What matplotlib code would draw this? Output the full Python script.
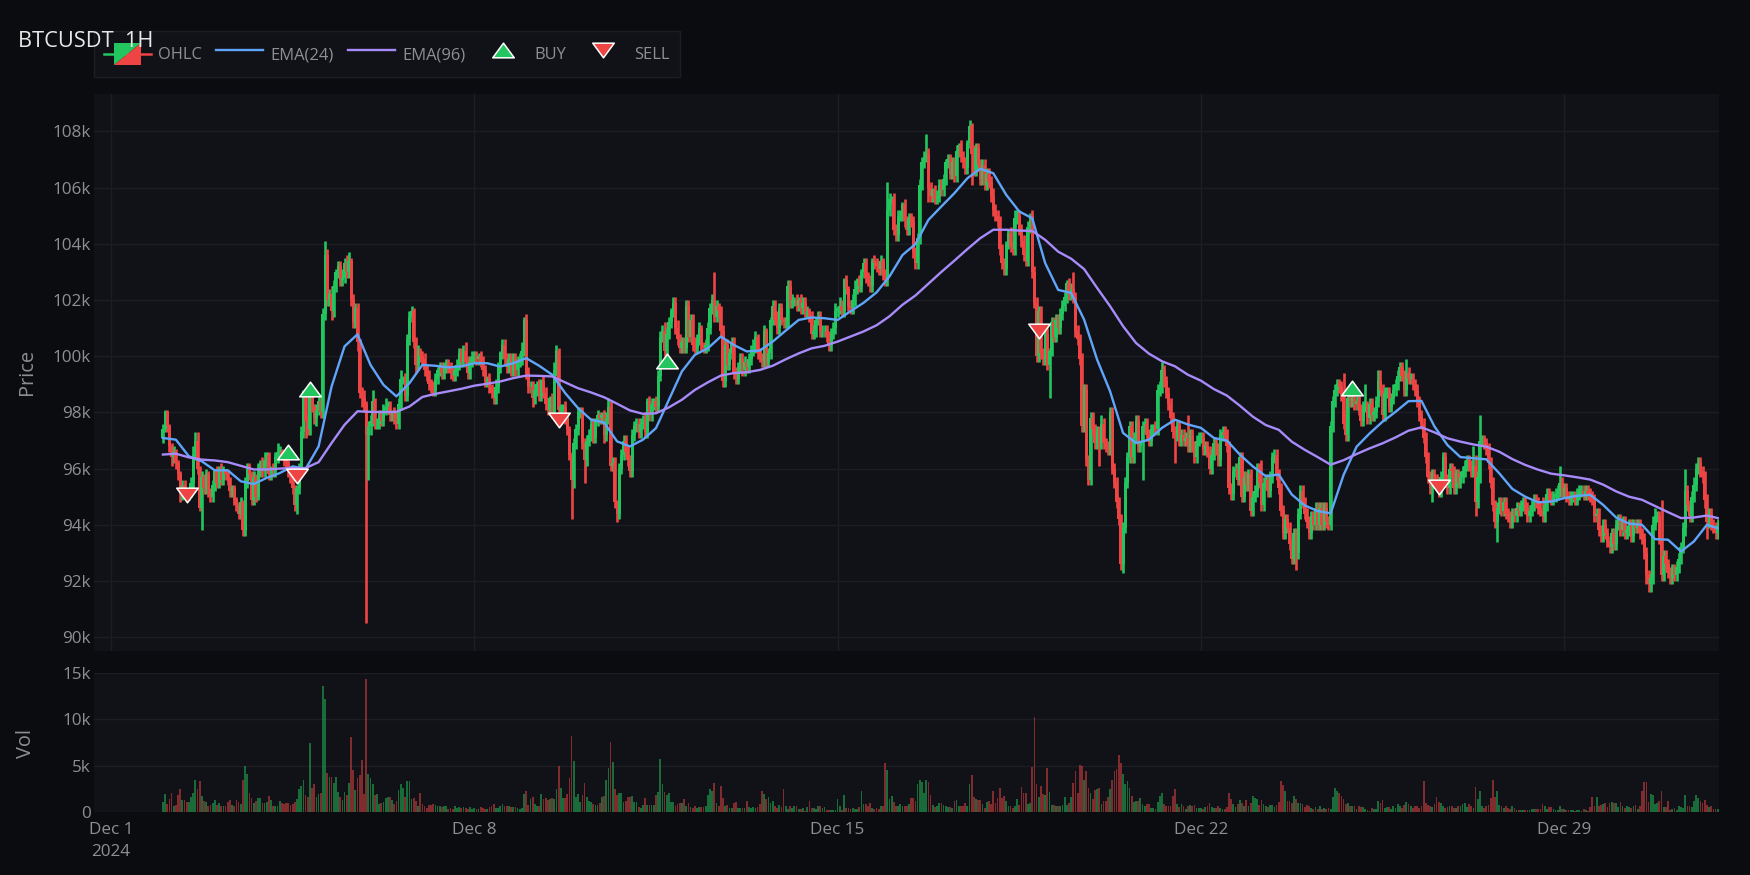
import pandas as pd
import matplotlib
matplotlib.use("Agg")
import matplotlib.pyplot as plt
import matplotlib.dates as mdates
from matplotlib.path import Path
from matplotlib.lines import Line2D
from matplotlib.patches import Polygon, Patch
from matplotlib.legend_handler import HandlerBase

plt.rcParams['font.family'] = ['Open Sans', 'DejaVu Sans']

symbol_title = "BTCUSDT  1H"
first_open = 97.1
closes = [
97.4,98.0,97.5,96.8,96.4,96.6,96.2,95.8,95.1,95.4,95.2,95.1,95.2,95.5,96.5,97.0,96.0,94.6,95.7,95.3,95.8,95.2,95.0,95.4,
95.9,95.5,96.0,95.6,95.9,95.8,95.6,95.2,95.3,94.9,94.7,94.4,94.8,93.8,95.5,96.1,95.8,94.9,95.7,95.0,95.9,96.2,95.9,96.3,
96.5,95.8,96.0,95.9,96.4,96.6,96.6,96.5,96.3,96.2,95.9,95.8,95.3,94.7,95.3,96.0,97.3,98.5,97.7,97.4,98.6,98.2,97.8,98.1,
98.4,98.0,101.5,103.6,102.0,102.2,101.6,102.5,103.0,103.2,102.7,102.8,103.3,103.0,103.4,102.0,101.2,101.7,100.5,98.7,98.5,98.3,97.2,97.5,
97.7,98.4,97.6,97.6,97.9,97.7,98.1,98.2,98.2,97.9,98.0,97.8,97.6,98.3,99.2,99.2,98.6,100.6,101.4,101.6,100.5,99.7,100.2,100.0,
99.9,99.5,99.3,99.0,98.9,98.8,99.2,99.5,99.6,99.4,99.6,99.7,99.6,99.4,99.3,99.5,99.7,100.1,99.8,100.2,99.8,99.4,99.8,100.0,
100.0,99.9,100.0,99.8,99.5,99.1,99.2,98.9,98.7,98.5,98.9,99.6,100.1,100.4,99.9,99.6,99.9,99.5,99.9,99.5,99.8,99.9,100.2,101.3,
99.4,98.9,98.9,98.5,98.8,99.0,98.6,99.1,98.7,98.3,98.1,98.5,98.0,99.5,100.2,98.1,98.2,98.2,97.8,97.4,96.5,95.6,96.9,97.4,
98.0,98.0,96.9,96.3,97.0,97.2,97.6,97.1,97.7,97.9,97.8,97.9,97.2,97.8,98.2,96.1,96.2,94.8,94.4,96.0,96.5,97.0,96.6,96.3,
95.9,97.2,97.5,97.6,97.3,97.6,97.7,97.3,98.4,97.9,98.3,98.4,98.2,99.3,100.7,100.9,100.2,100.8,101.2,101.6,101.9,101.0,100.6,100.3,
100.5,100.3,101.8,100.7,101.3,100.4,100.3,100.6,101.0,100.4,100.3,100.4,101.0,101.7,102.0,101.4,101.8,101.6,100.9,99.1,100.4,99.7,100.1,100.5,
99.4,99.2,99.6,99.9,99.5,99.8,99.6,99.9,100.2,100.3,100.7,100.1,100.0,99.8,100.9,99.8,100.1,101.3,101.8,101.3,101.0,101.7,101.3,101.2,
101.2,102.5,101.9,102.0,102.0,101.8,102.0,101.7,101.9,101.6,101.6,101.4,100.8,100.9,101.3,101.4,100.9,100.9,100.9,100.7,100.4,100.8,101.0,101.6,
101.7,101.8,101.6,102.7,102.4,101.8,101.7,102.0,102.4,102.7,102.5,103.0,103.3,102.8,102.7,102.5,103.4,103.3,103.2,103.1,103.4,102.9,102.7,105.2,
105.6,105.6,104.5,104.3,105.0,105.0,105.4,104.8,104.5,104.9,104.8,103.7,103.3,104.2,106.1,106.9,107.1,107.2,106.0,105.7,105.9,105.6,105.7,106.1,
105.9,106.3,106.9,107.0,106.5,106.9,106.4,107.3,107.5,107.1,106.9,106.7,107.6,108.2,107.2,106.6,107.4,106.8,106.3,106.8,106.1,106.5,106.2,105.7,
105.2,105.0,104.8,103.8,103.3,103.1,104.0,104.4,103.9,103.8,104.9,105.0,104.5,104.1,103.6,103.4,104.6,105.0,103.0,101.9,100.0,101.6,100.1,99.9,
100.8,99.7,100.2,101.2,100.7,101.3,101.0,101.5,101.8,102.1,102.6,102.2,102.4,102.1,100.9,100.6,99.9,97.5,98.8,96.3,95.6,97.8,97.4,96.9,
97.3,96.9,97.6,96.9,96.8,96.7,98.0,96.0,95.5,94.8,94.2,92.6,93.9,95.5,96.4,97.5,96.4,97.1,97.7,96.8,96.9,97.5,97.6,97.2,
97.0,97.4,97.5,97.4,98.8,98.9,99.5,99.1,98.7,98.3,97.8,97.3,97.2,97.5,97.0,97.2,97.0,97.1,96.8,97.2,96.8,96.4,97.0,97.1,
97.1,96.7,96.8,96.6,96.0,96.5,96.9,96.7,96.3,97.2,97.3,97.2,96.8,95.3,95.1,95.9,96.0,95.6,96.4,95.0,95.7,95.4,95.8,94.5,
95.0,95.2,96.0,95.5,94.7,95.5,95.6,95.2,95.7,96.4,96.5,95.8,95.3,94.5,93.7,94.2,93.9,93.3,92.8,93.7,93.0,94.4,95.2,94.8,
94.4,94.1,93.7,94.3,94.0,94.6,94.0,94.6,94.0,94.6,94.1,94.0,97.5,98.4,98.8,99.0,98.9,98.6,97.6,97.2,98.5,98.4,98.5,98.3,
98.4,98.1,97.7,98.2,98.2,97.8,98.3,97.9,98.0,98.4,99.1,98.8,97.9,98.7,98.7,98.2,98.5,98.8,99.0,99.3,99.6,99.3,98.8,99.4,
99.2,99.2,99.0,98.8,98.4,97.9,97.6,97.1,96.4,95.7,95.3,95.8,95.6,95.4,95.2,95.7,96.4,95.6,95.3,96.0,95.9,95.3,95.8,95.5,
95.7,95.9,96.1,96.3,96.1,95.9,96.1,94.8,95.7,97.0,97.0,96.9,96.7,96.2,95.5,94.7,94.1,94.6,94.8,94.5,94.8,94.4,94.3,94.1,
94.4,94.3,94.6,94.5,94.7,94.8,94.6,94.3,94.5,94.7,94.9,94.8,94.6,94.5,94.3,94.7,95.1,95.0,94.9,95.0,95.1,95.2,95.5,95.2,
95.3,95.0,94.9,95.0,95.0,94.9,95.1,95.2,95.2,95.1,95.2,95.1,95.0,94.9,94.3,94.4,93.8,93.6,94.0,93.7,93.4,93.2,93.7,93.3,
94.0,94.2,93.8,94.1,93.7,93.8,94.0,93.6,94.0,93.9,94.0,93.7,93.5,93.0,92.2,91.9,92.1,94.0,94.3,94.3,93.5,92.2,92.9,92.6,
92.3,92.1,92.4,92.2,92.5,92.8,93.2,93.9,95.2,94.7,94.3,95.0,95.4,96.0,96.2,95.9,95.7,94.9,94.1,94.4,94.0,93.9,93.7,94.0,
]
upper_wicks = [
2,1,1,1,1,2,1,1,1,2,2,1,1,2,3,3,3,1,2,1,2,1,1,2,
1,2,1,2,2,1,1,1,1,1,1,1,2,1,2,1,1,1,2,1,3,1,2,3,
1,1,1,2,2,3,2,1,1,1,1,1,1,1,1,2,2,3,3,2,2,1,1,2,
2,1,2,5,2,2,3,2,1,2,2,3,2,3,3,1,2,2,2,1,2,3,1,2,
2,4,1,2,2,2,2,3,2,2,1,2,2,2,3,1,2,2,2,2,1,2,2,1,
2,2,2,2,2,2,2,1,2,2,2,2,2,2,2,2,2,2,2,2,3,2,2,2,
2,2,1,2,2,2,1,2,1,2,3,2,1,2,2,2,2,2,2,2,2,2,3,1,
2,2,2,2,2,1,2,1,2,2,2,1,2,3,2,1,1,1,2,1,1,1,2,2,
2,2,2,2,2,2,2,2,1,2,1,1,2,2,3,2,2,2,1,2,2,2,2,2,
2,2,2,2,2,2,2,3,1,2,2,1,2,2,2,2,3,2,2,1,2,2,3,2,
2,2,2,2,2,2,3,2,2,1,1,2,2,2,2,10,2,1,2,2,2,2,2,2,
2,2,2,2,2,2,1,2,2,3,2,1,2,1,2,1,2,1,2,2,3,2,2,1,
2,2,2,2,1,2,1,2,2,2,2,1,2,2,1,2,2,2,2,2,2,2,2,3,
1,3,2,1,2,1,2,2,3,1,2,1,2,2,2,2,1,2,2,2,2,1,2,10,
2,1,2,2,2,2,1,2,2,2,2,2,2,2,2,2,2,7,2,2,1,2,2,2,
2,2,1,2,2,2,2,2,1,2,2,2,1,2,1,3,2,2,2,2,2,2,2,2,
3,2,2,2,2,2,1,1,2,2,3,2,2,2,2,2,2,1,2,2,2,2,2,2,
2,2,1,2,2,2,2,2,2,2,1,2,2,6,2,2,2,2,2,2,2,2,2,2,
2,2,3,2,2,2,2,2,2,2,2,2,2,2,2,2,2,2,2,2,1,2,2,2,
2,2,1,2,2,2,3,2,2,2,2,2,2,2,2,2,2,2,8,2,2,2,2,2,
2,2,2,2,2,2,2,2,2,2,2,2,2,2,2,2,2,2,2,2,2,2,2,2,
2,2,2,2,8,2,2,2,2,2,2,2,2,2,2,2,2,2,2,2,2,2,2,2,
2,2,2,2,2,2,2,2,2,2,2,2,2,2,2,2,2,2,8,5,2,2,2,2,
2,2,2,2,8,2,2,2,2,2,4,4,2,2,2,2,2,2,2,2,2,2,2,5,
2,2,2,2,2,2,2,2,2,2,2,2,2,2,2,2,2,2,2,2,2,2,2,2,
2,2,2,2,2,2,7,4,2,9,2,2,2,2,2,2,2,2,2,2,2,2,2,2,
2,2,2,2,2,2,2,2,2,2,2,2,2,2,5,2,2,2,2,2,2,2,6,2,
2,2,2,2,2,2,2,2,2,2,2,2,2,2,2,2,2,2,2,2,2,2,2,2,
2,2,2,2,2,2,2,2,2,2,2,2,2,2,2,2,2,3,3,2,2,14,2,2,
2,2,2,2,2,2,2,2,8,2,2,2,3,2,2,2,2,2,2,2,2,2,2,2,
]
lower_wicks = [
2,1,2,2,3,2,2,2,3,2,2,2,2,2,2,2,2,1,8,2,2,2,2,2,
2,2,2,2,2,2,2,2,2,2,2,2,2,2,2,2,2,2,2,2,1,2,2,2,
2,2,2,2,2,2,2,2,2,2,2,3,2,2,3,2,2,2,6,2,2,2,2,3,
2,2,2,2,2,2,3,2,2,2,2,2,2,2,2,2,2,2,3,2,3,3,67,16,
3,2,2,2,2,2,2,2,2,2,2,2,2,2,2,2,2,2,2,2,2,3,2,2,
2,2,2,2,2,2,2,2,2,2,2,2,2,2,2,2,2,2,2,2,2,2,2,2,
2,2,2,2,2,2,2,2,2,2,2,2,2,2,2,2,2,2,2,2,2,2,2,2,
2,2,2,3,2,2,2,2,2,2,2,2,2,2,2,2,2,2,2,2,2,14,3,2,
2,2,2,8,2,2,2,2,2,2,2,2,3,2,2,2,2,2,3,2,2,2,2,2,
2,2,2,2,2,2,2,2,2,2,2,2,2,2,2,2,2,2,2,2,2,2,2,2,
2,2,2,2,2,2,2,2,2,2,2,2,2,2,2,2,2,2,2,2,2,2,2,2,
2,2,2,2,2,2,2,2,2,2,2,2,2,2,2,2,2,2,2,2,2,2,2,2,
2,2,2,2,2,2,2,2,2,2,2,2,2,2,2,2,2,2,2,2,2,2,2,2,
2,2,2,2,2,2,2,2,2,2,2,2,2,2,2,2,2,2,2,2,2,2,2,2,
2,2,2,2,2,2,2,2,2,2,2,2,2,2,2,2,2,2,5,2,2,2,2,2,
2,2,2,2,2,2,2,2,2,2,2,2,2,2,11,2,2,2,2,2,2,2,2,2,
2,2,2,2,2,2,2,2,2,2,2,2,2,2,2,2,2,2,2,2,2,2,2,2,
2,2,12,2,2,2,2,2,2,2,2,2,2,2,2,2,2,2,2,2,2,2,2,2,
2,8,2,2,2,2,2,2,2,2,2,2,3,2,2,2,2,2,2,2,2,13,2,2,
2,2,2,2,2,2,2,2,2,2,2,2,10,2,2,2,2,2,2,2,2,2,2,2,
2,2,2,2,2,2,2,2,2,2,2,2,2,2,2,2,2,2,2,2,2,2,2,2,
2,2,2,2,2,2,2,2,2,2,2,2,2,2,2,2,2,2,2,2,6,2,2,2,
2,2,2,2,2,2,2,2,2,2,2,2,2,2,2,2,2,2,2,2,2,2,2,2,
2,2,2,2,2,2,2,2,2,2,2,2,2,2,2,2,2,2,2,2,2,2,2,2,
2,2,2,2,2,2,2,2,2,2,2,5,2,2,2,2,2,2,2,2,2,2,2,2,
2,2,2,2,2,2,2,5,2,2,2,2,2,2,2,2,2,7,2,2,2,2,2,2,
2,2,2,2,2,2,2,2,2,2,2,2,2,2,2,2,2,2,2,2,2,2,2,2,
2,2,2,2,2,2,2,2,2,2,2,2,2,2,2,2,2,2,2,2,2,2,2,2,
2,2,2,2,2,2,2,2,2,2,2,2,2,2,3,3,3,2,2,2,2,2,2,2,
2,2,2,2,2,2,2,2,3,2,2,2,2,2,2,2,2,3,6,2,2,2,2,2,
]
volumes = [
1.1,1.9,0.9,1.4,2.0,0.7,0.8,1.8,2.5,1.3,1.3,1.1,1.1,1.6,2.1,3.4,2.5,3.3,1.7,1.2,1.1,0.7,0.8,1.0,
1.3,0.8,1.0,0.6,0.6,0.6,1.1,1.3,0.8,0.7,1.3,1.1,0.9,3.4,5.0,4.1,2.1,1.5,1.0,1.2,1.5,1.5,1.0,1.0,
1.1,1.7,1.3,0.6,0.7,0.7,1.2,1.0,0.9,1.0,1.0,0.8,0.9,1.1,1.4,2.5,2.8,3.4,1.8,1.6,7.4,2.6,3.0,1.6,
1.9,2.1,13.6,12.2,4.2,3.8,3.8,3.1,3.8,2.2,1.6,1.3,2.2,1.8,3.1,8.1,4.5,2.4,3.7,4.0,5.6,1.9,14.4,4.1,
3.7,3.0,1.8,1.9,0.9,1.0,1.1,1.5,1.6,1.6,1.3,0.9,1.2,2.4,3.0,2.6,1.6,3.3,3.3,1.4,1.5,1.2,0.7,2.0,
0.9,0.7,0.4,0.8,0.8,0.9,0.8,0.7,0.6,0.5,0.7,0.6,0.3,0.4,0.3,0.7,0.4,0.5,0.4,0.5,0.4,0.3,0.5,0.3,
0.4,0.3,0.3,0.5,0.4,0.3,0.3,0.5,0.6,0.9,0.4,0.4,0.7,0.9,0.7,0.7,0.6,0.5,0.5,0.5,0.4,0.3,0.4,
1.9,2.3,0.8,1.4,1.6,0.9,0.7,0.7,1.9,1.4,1.5,1.3,1.4,1.5,1.4,2.5,5.0,2.6,1.5,1.5,1.9,3.7,8.2,5.5,1.6,1.9,1.1,1.8,3.1,1.6,1.2,1.1,0.9,0.8,0.8,1.0,1.6,1.7,3.4,4.8,7.6,5.4,2.5,1.8,2.0,2.0,1.1,1.2,1.6,1.6,1.7,1.1,1.1,0.5,0.4,0.8,1.5,0.8,0.8,0.8,0.8,1.8,2.2,5.7,3.0,2.2,1.8,2.0,1.1,1.1,0.7,0.9,1.0,1.0,1.4,0.7,1.0,0.5,0.4,0.6,0.4,0.5,0.5,0.5,0.7,1.8,2.5,2.3,3.1,1.0,0.7,2.8,1.5,0.7,0.8,0.4,0.4,1.0,1.1,0.4,0.4,0.4,0.4,1.2,0.5,0.4,0.5,0.4,0.5,0.9,2.3,1.9,1.4,1.6,1.0,1.2,0.6,0.4,0.8,0.5,2.5,0.7,0.3,0.6,0.4,0.6,0.7,0.3,0.3,0.4,0.1,0.5,1.2,0.4,0.4,0.3,0.7,0.6,0.4,0.5,0.2,0.2,0.2,0.2,0.2,1.4,0.7,0.2,1.8,0.4,0.4,0.3,0.4,0.3,0.3,0.5,2.3,0.9,0.9,0.7,1.0,0.4,0.3,0.4,0.3,0.7,0.7,5.3,4.5,1.4,1.7,1.1,0.6,0.7,0.9,0.6,0.6,0.7,
0.9,1.5,1.5,1.2,3.0,3.4,3.2,2.0,3.4,3.2,1.8,0.8,0.5,0.7,1.0,1.0,0.8,0.7,0.5,0.5,0.4,1.2,1.3,0.6,0.6,0.7,1.0,0.7,3.0,4.0,1.6,1.4,1.3,1.3,0.9,0.4,1.1,1.2,0.9,2.3,1.0,1.5,2.6,1.5,1.7,1.2,0.6,0.7,0.4,0.7,1.4,0.8,2.7,2.1,2.0,0.9,1.0,4.9,10.3,3.0,1.6,2.8,1.9,1.8,4.8,2.2,0.8,0.8,0.6,0.6,0.7,0.8,1.6,0.8,1.0,1.6,3.1,4.4,2.1,5.1,5.0,3.5,4.4,2.6,2.0,1.4,2.4,2.5,2.6,0.9,1.2,1.2,1.6,2.5,3.4,4.4,4.6,6.2,5.3,4.1,3.0,3.3,2.6,1.7,1.1,1.2,1.2,1.5,0.9,0.7,0.9,0.9,0.4,0.4,0.3,1.1,1.7,2.0,0.9,0.6,0.7,0.7,1.7,2.5,0.9,0.5,0.9,0.7,0.3,0.7,0.8,0.6,0.8,0.4,0.4,0.4,0.3,0.5,0.6,1.0,0.5,0.4,0.4,0.7,0.4,0.3,0.3,0.5,2.0,1.4,0.9,0.5,0.9,1.3,1.0,0.6,1.3,0.7,1.0,1.7,1.5,1.4,0.8,1.3,0.9,0.6,0.5,0.8,0.8,0.5,0.8,1.1,3.3,2.9,2.3,1.2,1.2,1.0,1.7,1.4,1.0,1.0,0.9,0.5,0.8,0.6,0.4,0.3,0.5,0.3,
0.6,0.3,0.4,0.3,0.4,0.3,1.6,2.6,2.3,2.1,1.7,1.4,0.9,1.0,0.6,0.7,0.6,0.3,0.6,0.5,0.5,0.3,0.2,0.1,0.4,0.3,0.3,1.2,1.0,1.3,0.4,0.5,0.5,0.3,0.6,0.4,0.9,0.7,0.4,0.8,1.1,0.9,0.7,0.4,0.6,0.6,0.4,0.6,3.3,1.0,0.8,0.7,0.5,0.9,1.6,1.1,1.0,0.6,0.4,0.5,0.6,0.6,0.4,0.4,0.6,0.7,0.9,1.0,0.5,0.9,0.7,0.4,2.7,1.4,2.3,0.7,0.4,0.6,0.8,1.5,3.5,1.6,2.3,0.8,0.6,0.4,0.7,0.4,0.3,0.6,0.4,0.2,0.2,0.2,0.2,0.2,0.2,0.2,0.3,0.3,0.3,0.3,0.3,0.9,0.6,0.3,0.5,0.5,0.3,0.2,0.2,0.6,0.3,0.3,0.2,0.2,0.2,0.2,0.1,0.2,0.2,0.1,0.3,0.2,0.1,0.5,1.6,0.6,1.6,0.6,0.8,0.9,1.0,0.5,1.0,1.1,1.0,1.0,0.5,1.1,0.7,0.4,0.6,0.5,0.4,0.6,0.8,0.3,0.7,2.3,3.2,3.2,1.1,1.9,1.8,0.9,1.0,1.2,2.3,0.5,0.5,1.2,0.2,0.3,0.4,0.2,0.6,0.5,0.4,1.8,0.7,0.6,0.5,1.2,1.8,1.5,1.2,1.0,1.3,0.8,0.5,0.7,0.3,0.3,0.3,
]
ema24 = [
97.09,97.03,96.44,96.26,95.94,95.94,95.55,95.45,95.67,95.84,96.08,95.99,96.79,98.92,100.35,100.78,99.69,98.98,98.57,99.04,99.69,99.66,99.6,99.64,
99.75,99.75,99.63,99.75,99.93,99.66,99.34,98.69,98.15,97.74,97.64,96.97,96.79,97.03,97.44,98.45,99.46,100.05,100.28,100.7,100.4,100.17,100.2,100.52,
100.91,101.29,101.38,101.35,101.29,101.6,101.9,102.27,102.84,103.6,103.99,104.85,105.33,105.8,106.33,106.67,106.51,105.74,105.15,104.91,103.31,102.36,102.25,101.3,
99.88,98.75,97.27,96.91,97.03,97.45,97.74,97.57,97.45,97.09,97.0,96.5,96.08,95.73,95.79,95.08,94.69,94.49,94.41,95.78,96.78,97.25,97.67,98.02,
98.4,98.41,97.5,96.84,96.41,96.37,96.33,95.83,95.28,95.0,94.8,94.83,94.95,95.03,95.07,94.71,94.26,94.04,94.0,93.49,93.47,93.05,93.41,94.0,93.88,
]
ema96 = [
96.5,96.53,96.4,96.32,96.29,96.23,96.1,95.97,95.97,96.0,96.02,96.02,96.23,96.91,97.56,98.04,98.02,98.01,98.02,98.21,98.55,98.66,98.75,98.84,
98.95,99.02,99.1,99.22,99.31,99.3,99.28,99.07,98.86,98.71,98.54,98.31,98.07,97.95,97.97,98.18,98.45,98.8,99.07,99.31,99.4,99.43,99.51,99.66,
99.89,100.1,100.28,100.37,100.52,100.7,100.88,101.1,101.42,101.83,102.16,102.58,103.0,103.4,103.81,104.2,104.5,104.5,104.47,104.46,104.14,103.72,103.47,103.1,
102.43,101.78,101.07,100.47,100.09,99.82,99.64,99.34,99.13,98.83,98.6,98.24,97.85,97.55,97.38,96.96,96.67,96.41,96.14,96.3,96.52,96.72,96.9,97.11,
97.35,97.47,97.29,97.08,96.96,96.86,96.78,96.6,96.34,96.13,95.96,95.82,95.76,95.69,95.61,95.43,95.19,95.0,94.89,94.67,94.45,94.24,94.26,94.33,94.24,
]
ema_hours = list(range(0, 720, 6)) + [719]
buy_hours = [58, 68, 233, 550]
buy_prices = [96.6, 98.84, 99.84, 98.88]
sell_hours = [11, 62, 183, 405, 590]
sell_prices = [95.06, 95.74, 97.73, 100.91, 95.36]
price_ticks = [90, 92, 94, 96, 98, 100, 102, 104, 106, 108]
vol_ticks = [0, 5, 10, 15]
date_ticks = ["2024-12-01", "2024-12-08", "2024-12-15", "2024-12-22", "2024-12-29"]
date_labels = ["Dec 1\n2024", "Dec 8", "Dec 15", "Dec 22", "Dec 29"]

GREEN, RED = "#22c55e", "#ef4444"
BLUE, PURPLE = "#60a5fa", "#a78bfa"
PAPER, PLOT, GRID, TXT = "#0b0c0f", "#111217", "#1d1e24", "#8f8f93"
W, H = 1750, 875

n = len(closes)
times = pd.date_range("2024-12-02", periods=n, freq="h")
t = mdates.date2num(times)
t0 = mdates.date2num(pd.Timestamp("2024-12-02"))
hour = 1 / 24
opens = [first_open] + closes[:-1]
highs = [max(o, c) + u / 10 for o, c, u in zip(opens, closes, upper_wicks)]
lows = [min(o, c) - d / 10 for o, c, d in zip(opens, closes, lower_wicks)]
colors = [GREEN if c >= o else RED for o, c in zip(opens, closes)]


def px_axes(fig, left, top, right, bottom):
    ax = fig.add_axes([left / W, 1 - bottom / H, (right - left) / W, (bottom - top) / H])
    ax.set_facecolor(PLOT)
    for s in ax.spines.values():
        s.set_visible(False)
    return ax


fig = plt.figure(figsize=(W / 100, H / 100), dpi=100, facecolor=PAPER)
ax = px_axes(fig, 94, 94, 1719, 651)
axv = px_axes(fig, 94, 673, 1719, 812)

k = 1000
ax.vlines(t, [l * k for l in lows], [h * k for h in highs], colors=colors, lw=1.9, zorder=2)
ax.bar(t, [abs(c - o) * k for o, c in zip(opens, closes)], bottom=[min(o, c) * k for o, c in zip(opens, closes)],
       width=1.4 * hour, color=colors, linewidth=0, zorder=2)
ema_t = [t0 + h * hour for h in ema_hours]
ax.plot(ema_t, [v * k for v in ema24], color=BLUE, lw=1.7, zorder=3, solid_joinstyle="round")
ax.plot(ema_t, [v * k for v in ema96], color=PURPLE, lw=1.7, zorder=3, solid_joinstyle="round")

up_tri = Path([(-1, -0.68), (1, -0.68), (0, 0.68), (-1, -0.68)], closed=True)
dn_tri = Path([(-1, 0.68), (1, 0.68), (0, -0.68), (-1, 0.68)], closed=True)
mk = dict(linestyle="none", markersize=15.5, markeredgecolor="white", markeredgewidth=1.1, zorder=4)
ax.plot([t0 + h * hour for h in buy_hours], [p * k for p in buy_prices], marker=up_tri, markerfacecolor=GREEN, **mk)
ax.plot([t0 + h * hour for h in sell_hours], [p * k for p in sell_prices], marker=dn_tri, markerfacecolor=RED, **mk)

nv = min(len(volumes), n)
axv.bar(t[:nv], [v * k for v in volumes[:nv]], width=0.8 * hour, color=colors[:nv], alpha=0.5, linewidth=0, zorder=2)

xl = (mdates.date2num(pd.Timestamp("2024-12-01")) - 17 / 51.9, mdates.date2num(pd.Timestamp("2024-12-01")) + 1608 / 51.9)
tick_x = [mdates.date2num(pd.Timestamp(d)) for d in date_ticks]
ax.set_xlim(*xl)
axv.set_xlim(*xl)
ax.set_ylim(89510, 109330)
axv.set_ylim(0, 15000)
ax.set_xticks(tick_x)
ax.set_xticklabels([])
axv.set_xticks(tick_x)
axv.set_xticklabels(date_labels)
ax.set_yticks([p * k for p in price_ticks])
ax.set_yticklabels([f"{p}k" for p in price_ticks])
axv.set_yticks([v * k for v in vol_ticks])
axv.set_yticklabels(["0" if v == 0 else f"{v}k" for v in vol_ticks])
ax.grid(True, color=GRID, lw=1, zorder=1)
ax.set_axisbelow(True)
axv.grid(True, axis="y", color=GRID, lw=1, zorder=1)
axv.set_axisbelow(True)
for a in (ax, axv):
    a.tick_params(length=0, labelsize=12.3, labelcolor=TXT, pad=2)
axv.tick_params(axis="x", pad=7)
for lab in axv.get_xticklabels():
    lab.set_linespacing(1.5)
fig.text(27 / W, 1 - 372 / H, "Price", rotation=90, color=TXT, fontsize=14.4, ha="center", va="center")
fig.text(26 / W, 1 - 743 / H, "Vol", rotation=90, color=TXT, fontsize=14.4, ha="center", va="center")


class HandlerOHLC(HandlerBase):
    def create_artists(self, legend, orig_handle, xdescent, ydescent, width, height, fontsize, trans):
        cx, cy = width / 2 - xdescent, height / 2 - ydescent
        w, h = 9.7, 7.9
        up = Polygon([(cx - w, cy - h), (cx - w, cy + h), (cx + w, cy + h)], closed=True, fc=GREEN, ec="none", transform=trans)
        dn = Polygon([(cx - w, cy - h), (cx + w, cy - h), (cx + w, cy + h)], closed=True, fc=RED, ec="none", transform=trans)
        l1 = Line2D([cx - width / 2, cx], [cy, cy], color=GREEN, lw=1.8, transform=trans)
        l2 = Line2D([cx, cx + width / 2], [cy, cy], color=RED, lw=1.8, transform=trans)
        return [l1, l2, up, dn]


handles = [
    Patch(label="OHLC"),
    Line2D([], [], color=BLUE, lw=1.7),
    Line2D([], [], color=PURPLE, lw=1.7),
    Line2D([], [], marker=up_tri, linestyle="none", markerfacecolor=GREEN, markeredgecolor="white", markeredgewidth=1.1, markersize=15.5),
    Line2D([], [], marker=dn_tri, linestyle="none", markerfacecolor=RED, markeredgecolor="white", markeredgewidth=1.1, markersize=15.5),
]
leg = fig.legend(handles, ["OHLC", "EMA(24)", "EMA(96)", "BUY", "SELL"], loc="upper left", bbox_to_anchor=(94 / W, 1 - 31 / H),
                 bbox_transform=fig.transFigure, borderaxespad=0, ncol=5, frameon=True, fancybox=False, facecolor=PLOT,
                 edgecolor=GRID, framealpha=1, fontsize=11.9, labelcolor=TXT, handlelength=2.85, handleheight=2.05,
                 handletextpad=0.45, columnspacing=0.84, borderpad=0.6, numpoints=1,
                 handler_map={Patch: HandlerOHLC()})
leg.get_frame().set_linewidth(1)
fig.text(18 / W, 1 - 47 / H, symbol_title, color="#e8e8e8", fontsize=15.7, ha="left", va="baseline", zorder=10)

fig.savefig("out.png", dpi=100, facecolor=PAPER)
